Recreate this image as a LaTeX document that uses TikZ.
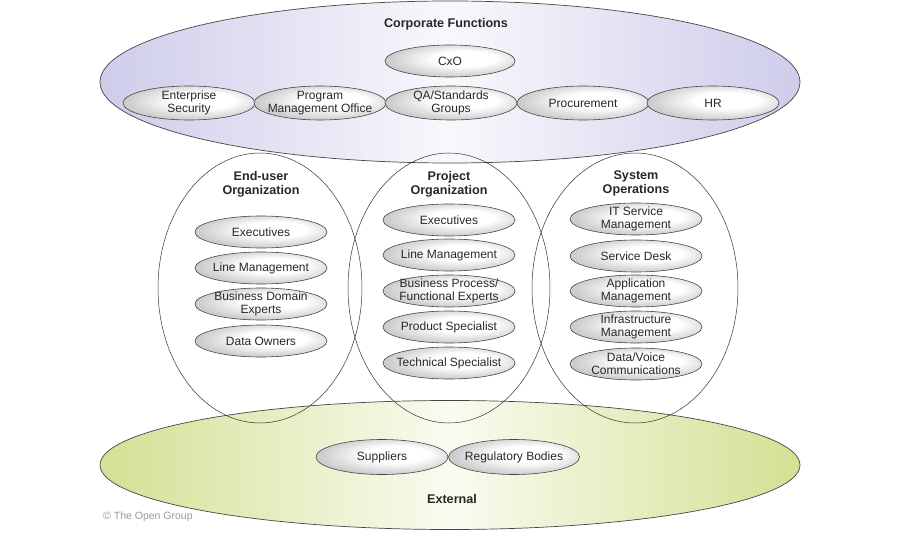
\documentclass[tikz,border=0pt]{standalone}
\usepackage{fontspec}
\setmainfont{Liberation Sans}
\usetikzlibrary{shapes.geometric}
\definecolor{lav}{RGB}{206,204,234}
\definecolor{lavin}{RGB}{248,248,252}
\definecolor{grn}{RGB}{210,225,148}
\definecolor{grnin}{RGB}{250,251,240}
\definecolor{lbl}{RGB}{40,40,40}
\definecolor{edge}{RGB}{70,70,70}
\pgfdeclareradialshading{itemshade}{\pgfpoint{7bp}{5bp}}{color(0bp)=(white); color(12bp)=(white); color(27bp)=(black!20); color(50bp)=(black!20)}
\tikzset{
  big/.style={ellipse, draw=edge, line width=0.7pt, inner sep=0pt},
  grp/.style={ellipse, draw=black!80, line width=0.5pt, inner sep=0pt, minimum height=270pt},
  item/.style={ellipse, draw=edge, line width=0.6pt, inner xsep=-12pt, inner ysep=-6pt, minimum width=132pt, minimum height=33pt,
    shading=itemshade, text=lbl, align=center,
    font=\fontsize{12}{13}\selectfont},
  head/.style={align=center, text=lbl, font=\fontsize{12.6}{14}\selectfont\bfseries},
}
\begin{document}
\begin{tikzpicture}[x=1pt,y=-1pt]
\useasboundingbox[fill=white] (0,0) rectangle (900,540);
% big ellipses
\node[big, minimum width=700pt, minimum height=162pt, left color=lav, right color=lav, middle color=lavin] (corp) at (450,82) {};
\node[big, minimum width=700pt, minimum height=129pt, left color=grn, right color=grn, middle color=grnin] (ext) at (450,465) {};
% titles
\node[head] (corpt) at (446,24) {Corporate Functions};
\node[head] (extt) at (452,499) {External};
% corporate items
\node[item, minimum width=130pt, minimum height=32pt] (cxo) at (450,61) {CxO};
\node[item, minimum height=34pt] (es) at (189,103) {Enterprise\\Security};
\node[item, minimum height=34pt] (pmo) at (320,103) {Program\\Management Office};
\node[item, minimum height=34pt] (qa) at (451,103) {QA/Standards\\Groups};
\node[item, minimum height=34pt] (proc) at (583,103) {Procurement};
\node[item, minimum height=34pt] (hr) at (713,103) {HR};
% external items
\node[item, minimum height=35pt] (sup) at (382,457) {Suppliers};
\node[item, minimum height=35pt, minimum width=131pt] (reg) at (514,457) {Regulatory Bodies};
% group ellipses
\node[grp, minimum width=204pt] (eu) at (260,288) {};
\node[grp, minimum width=202pt] (po) at (449,288) {};
\node[grp, minimum width=206pt] (so) at (635,288) {};
\node[head] (eut) at (261,184) {End-user\\Organization};
\node[head] (pot) at (449,184) {Project\\Organization};
\node[head] (sot) at (636,183) {System\\Operations};
% end-user items
\node[item, minimum height=32pt] (eu1) at (261,232) {Executives};
\node[item, minimum height=32pt] (eu2) at (261,268) {Line Management};
\node[item, minimum height=32pt] (eu3) at (261,304) {Business Domain\\Experts};
\node[item, minimum height=32pt] (eu4) at (261,341) {Data Owners};
% project items
\node[item, minimum height=32pt] (po1) at (449,220) {Executives};
\node[item, minimum height=32pt] (po2) at (449,255) {Line Management};
\node[item, minimum height=32pt] (po3) at (449,291) {Business Process/\\Functional Experts};
\node[item, minimum height=32pt] (po4) at (449,327) {Product Specialist};
\node[item, minimum height=32pt] (po5) at (449,363) {Technical Specialist};
% system ops items
\node[item, minimum height=32pt] (so1) at (636,219) {IT Service\\Management};
\node[item, minimum height=32pt] (so2) at (636,256) {Service Desk};
\node[item, minimum height=32pt] (so3) at (636,291) {Application\\Management};
\node[item, minimum height=32pt] (so4) at (636,327) {Infrastructure\\Management};
\node[item, minimum height=32pt] (so5) at (636,364) {Data/Voice\\Communications};
% copyright
\node[anchor=west, text=black!40, font=\fontsize{10.5}{12}\selectfont, inner sep=0pt] (copy) at (103,517) {© The Open Group};
\end{tikzpicture}
\end{document}
